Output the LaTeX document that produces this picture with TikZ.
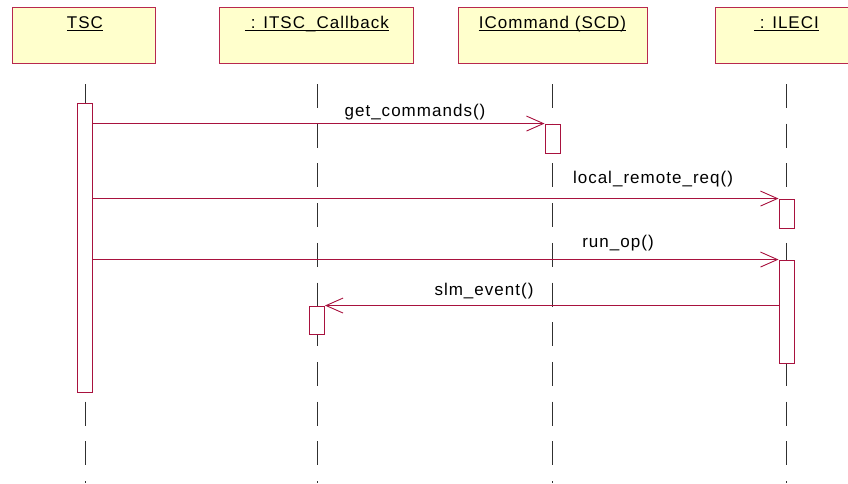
\documentclass[tikz,border=0pt]{standalone}
\usepackage{fontspec}
\setmainfont{Liberation Sans}[LetterSpace=6]
\usetikzlibrary{arrows.meta,calc}
\definecolor{objborder}{HTML}{B8284E}
\definecolor{objfill}{HTML}{FFFFCC}
\definecolor{msgcol}{HTML}{A8123E}
\definecolor{lifecol}{HTML}{303030}
\tikzset{
  obj/.style={draw=objborder, fill=objfill, line width=0.9pt, minimum height=56pt, inner sep=0pt},
  title/.style={inner sep=0pt, anchor=base, font=\fontsize{17}{20}\selectfont},
  lbl/.style={inner sep=0pt, anchor=base, font=\fontsize{17}{20}\selectfont},
  lifeline/.style={draw=lifecol, line width=0.9pt, dash pattern=on 24pt off 15.7pt},
  act/.style={draw=msgcol, fill=white, line width=0.9pt, minimum width=15pt, inner sep=0pt},
  msg/.style={draw=msgcol, line width=0.9pt, -{Straight Barb[length=17pt,width=15pt,line width=0.9pt]}},
  uline/.style={draw=black, line width=0.8pt}
}
\begin{document}
\begin{tikzpicture}[x=1pt,y=-1pt]
\useasboundingbox (0,0) rectangle (848,483);

% object boxes
\node[obj, minimum width=143pt] (tsc)  at (83.5,35) {};
\node[obj, minimum width=194pt] (itsc) at (316,35) {};
\node[obj, minimum width=189pt] (icmd) at (552.5,35) {};
\node[obj, minimum width=133pt] (leci) at (781.5,35) {};

% underlined object names
\node[title] (ttsc)  at (85,28.3) {TSC};
\node[title] (titsc) at (317,28.3) {\ : ITSC\_Callback};
\node[title] (ticmd) at (552.5,28.3) {ICommand (SCD)};
\node[title] (tleci) at (786.5,28.3) {\ : ILECI};
\foreach \t in {ttsc,titsc,ticmd,tleci}
  \draw[uline] ($(\t.base west)+(0,2.3)$) -- ($(\t.base east)+(0,2.3)$);

% lifelines
\coordinate (ltsc0) at (85,84);     \coordinate (ltsc1) at (85,483);
\coordinate (litsc0) at (317,84);   \coordinate (litsc1) at (317,483);
\coordinate (licmd0) at (552.5,84); \coordinate (licmd1) at (552.5,483);
\coordinate (lleci0) at (786.5,84); \coordinate (lleci1) at (786.5,483);
\draw[lifeline] (ltsc0) -- (ltsc1);
\draw[lifeline] (litsc0) -- (litsc1);
\draw[lifeline] (licmd0) -- (licmd1);
\draw[lifeline] (lleci0) -- (lleci1);

% activation bars
\node[act, minimum height=289pt] (atsc)  at (85,247.5) {};
\node[act, minimum height=29pt]  (aicmd) at (552.5,138.5) {};
\node[act, minimum height=29pt]  (aleci1) at (786.5,213.5) {};
\node[act, minimum height=103pt] (aleci2) at (786.5,311.5) {};
\node[act, minimum height=28pt]  (aitsc) at (317,320) {};

% messages
\draw[msg] (atsc.east |- aicmd.north) -- (aicmd.north west);
\draw[msg] (atsc.east |- aleci1.north) -- (aleci1.north west);
\draw[msg] (atsc.east |- aleci2.north) -- (aleci2.north west);
\draw[msg] (aleci2.west |- aitsc.north) -- (aitsc.north east);

% message labels
\node[lbl] (mget) at (415,116) {get\_commands()};
\node[lbl] (mloc) at (653,183) {local\_remote\_req()};
\node[lbl] (mrun) at (618,247) {run\_op()};
\node[lbl] (mslm) at (484,295) {slm\_event()};
\end{tikzpicture}
\end{document}
